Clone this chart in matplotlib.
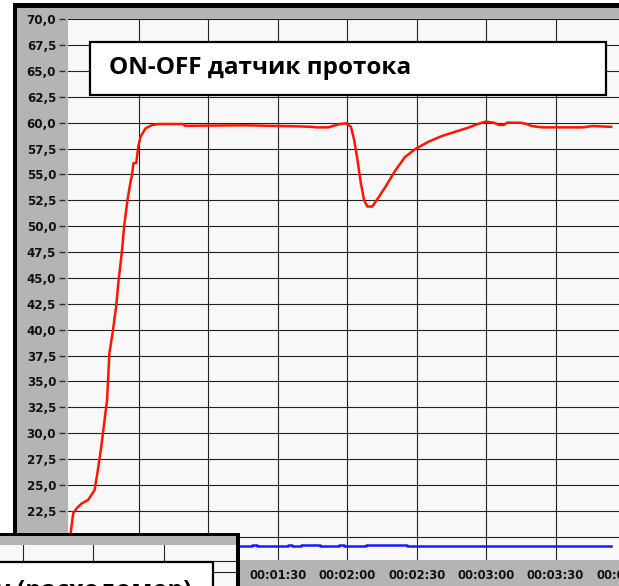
import matplotlib
matplotlib.use("Agg")

import matplotlib.pyplot as plt
from matplotlib.patches import Rectangle

# temperature trace (red), seconds from start / value
temp_t = [0.3, 0.5, 1.6, 3.3, 5.2, 8.0, 10.8, 12.2, 13.7, 15.5, 16.2, 17.2,
	18.6, 20.1, 21.2, 22.6, 23.6, 25.0, 26.5, 26.9, 27.6, 28.8, 29.7, 30.7,
	32.8, 35.7, 38.5, 49.2, 49.9, 75.0, 98.0, 104.6, 106.8, 111.8, 116.6,
	119.4, 121.6, 123.0, 124.4, 125.9, 127.3, 128.7, 130.8, 133.7, 136.5,
	140.8, 145.0, 149.7, 155.0, 160.7, 166.3, 172.0, 176.3, 179.8, 183.4,
	185.5, 187.6, 189.0, 194.8, 197.6, 199.7, 204.0, 210.4, 221.7, 226.0,
	234.0]
temp_v = [20.0, 20.4, 22.3, 22.8, 23.2, 23.55, 24.5, 26.4, 28.7, 31.95, 33.2,
	37.7, 39.7, 42.2, 44.8, 47.5, 50.0, 52.5, 54.5, 54.8, 56.1, 56.1, 57.7,
	58.65, 59.45, 59.78, 59.87, 59.87, 59.7, 59.75, 59.65, 59.6, 59.55, 59.55,
	59.87, 59.94, 59.6, 58.3, 56.4, 54.1, 52.5, 51.9, 51.9, 52.85, 53.8, 55.4,
	56.7, 57.5, 58.15, 58.7, 59.1, 59.5, 59.87, 60.1, 60.0, 59.78, 59.78, 60.0,
	60.0, 59.87, 59.68, 59.55, 59.55, 59.55, 59.68, 59.6]

# flow trace (blue)
flow_t = [0, 79, 81, 94.5, 96, 100, 108, 116.5, 118.5, 128, 146, 234]
flow_v = [19.13, 19.21, 19.13, 19.21, 19.13, 19.21, 19.13, 19.21, 19.13,
	19.21, 19.13, 19.13]

y_ticks = [20 + 2.5 * i for i in range(21)]
x_ticks = [30, 60, 90, 120, 150, 180, 210, 240]
x_labels = ["00:00:30", "00:01:00", "00:01:30", "00:02:00", "00:02:30",
	"00:03:00", "00:03:30", "00:04:00"]

title = "ON-OFF датчик протока"
second_title = "у (расходомер)"

W, H = 619.0, 586.0
PANEL = "#b4b4b4"
PLOT_BG = "#f8f8f8"
GRID = "#222222"

def box(x0, y0, x1, y1):
	# pixel box (top-left origin) -> figure fraction rect
	return [x0 / W, 1 - y1 / H, (x1 - x0) / W, (y1 - y0) / H]

def add_rect(fig, x0, y0, x1, y1, z, **kw):
	l, b, w, h = box(x0, y0, x1, y1)
	r = Rectangle((l, b), w, h, transform=fig.transFigure, zorder=z, **kw)
	fig.add_artist(r)
	return r

fig = plt.figure(figsize=(W / 100, H / 100), dpi=100, facecolor="white")

# window frame of the main chart
add_rect(fig, 12.5, 3.3, 800, 800, -2, facecolor="black", edgecolor="none")
add_rect(fig, 17, 7.5, 800, 800, -1, facecolor=PANEL, edgecolor="none")

# main plot
ax = fig.add_axes(box(68, 19.2, 625, 560))
ax.set_facecolor(PLOT_BG)
ax.set_xlim(-0.68, 236.6)
ax.set_ylim(17.75, 70.0)
for s in ax.spines.values():
	s.set_visible(False)
ax.spines["left"].set_position(("outward", 2))

ax.set_yticks(y_ticks)
ax.set_yticklabels([("%.1f" % v).replace(".", ",") for v in y_ticks])
ax.set_xticks(x_ticks)
ax.set_xticklabels(x_labels)
ax.tick_params(axis="y", length=4.5, width=1, color="#303030", pad=2,
	labelsize=8.6, labelcolor="#111111")
ax.tick_params(axis="x", length=0, pad=6.5, labelsize=8.4, labelcolor="#111111")
for lab in ax.get_xticklabels() + ax.get_yticklabels():
	lab.set_fontweight("bold")
# first two time labels sit under the second window anyway
for lab in ax.get_xticklabels()[:2]:
	lab.set_visible(False)
ax.grid(True, color=GRID, linewidth=0.8)
ax.set_axisbelow(True)

ax.plot(flow_t, flow_v, color="#1a1aff", linewidth=1.8, drawstyle="steps-post",
	zorder=3)
ax.plot(temp_t, temp_v, color="#ff1500", linewidth=1.8, zorder=4)

# title box
add_rect(fig, 90, 42, 606, 95, 2, facecolor="white", edgecolor="black",
	linewidth=1.6)
fig.text(109 / W, 1 - 68.5 / H, title, fontsize=17.5, fontweight="bold",
	family="Open Sans", va="center", ha="left", zorder=3)

# second window overlapping the bottom-left corner
add_rect(fig, -20, 532.5, 239.5, 800, 5, facecolor="black", edgecolor="none")
add_rect(fig, -20, 536, 235.5, 800, 6, facecolor=PANEL, edgecolor="none")
ax2 = fig.add_axes(box(-20, 545, 235.5, 800), zorder=7)
ax2.set_facecolor(PLOT_BG)
ax2.set_xlim(-20, 235.5)
ax2.set_ylim(800, 545)
for s in ax2.spines.values():
	s.set_visible(False)
ax2.set_xticks([23, 93, 164])
ax2.set_yticks([560.7, 571.7])
ax2.tick_params(length=0, labelleft=False, labelbottom=False)
ax2.grid(True, color=GRID, linewidth=0.8)
add_rect(fig, -20, 562, 213, 800, 8, facecolor="white", edgecolor="black",
	linewidth=1.6)
fig.text(192 / W, 1 - 598 / H, second_title, fontsize=18, fontweight="bold",
	family="Open Sans", va="baseline", ha="right", zorder=9)

fig.savefig("out.png", dpi=100, facecolor="white")
